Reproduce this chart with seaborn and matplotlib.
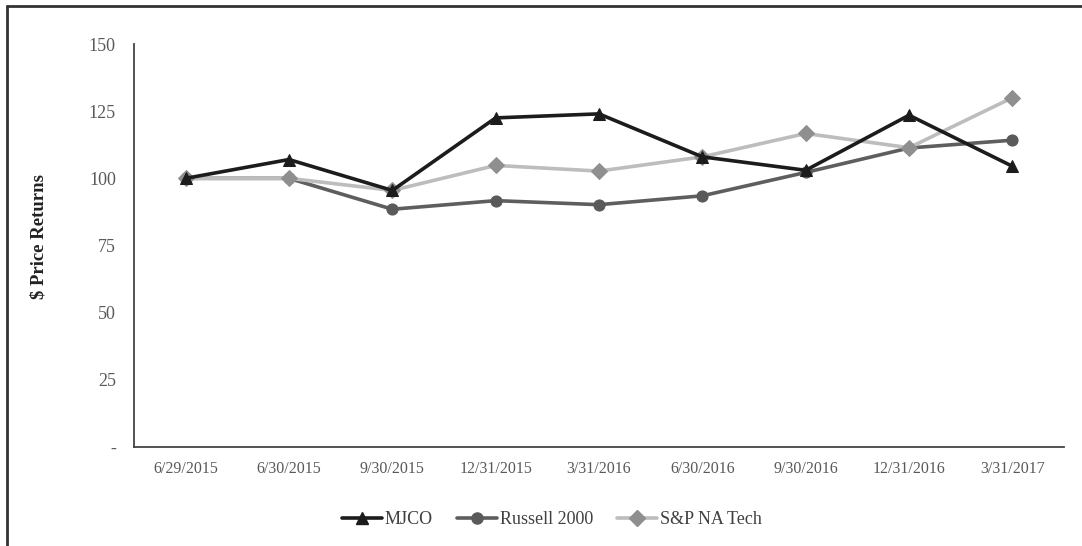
import matplotlib
matplotlib.use("Agg")
import matplotlib.pyplot as plt
from matplotlib.lines import Line2D
import seaborn as sns
import pandas as pd
import numpy as np

# Quarter-end dates on the category axis
dates = ["6/29/2015", "6/30/2015", "9/30/2015", "12/31/2015", "3/31/2016",
         "6/30/2016", "9/30/2016", "12/31/2016", "3/31/2017"]

# Indexed price returns (base = 100)
mjco = [100, 107, 95.5, 122.5, 124, 108, 103, 123.5, 104.5]
russell = [100, 100, 88.5, 91.7, 90.2, 93.5, 102.2, 111.3, 114.2]
sp_tech = [100, 100, 95.5, 104.8, 102.7, 108, 116.7, 111.4, 130]

series_names = ["MJCO", "Russell 2000", "S&P NA Tech"]
yticks = [0, 25, 50, 75, 100, 125, 150]
ytick_labels = ["-", "25", "50", "75", "100", "125", "150"]

line_colors = {"MJCO": "#1c1c1c", "Russell 2000": "#5e5e5e", "S&P NA Tech": "#bdbdbd"}
marker_colors = {"MJCO": "#1c1c1c", "Russell 2000": "#5a5a5a", "S&P NA Tech": "#8f8f8f"}
markers = {"MJCO": "^", "Russell 2000": "o", "S&P NA Tech": "D"}
marker_sizes = {"MJCO": 9, "Russell 2000": 8, "S&P NA Tech": 8}

df = pd.DataFrame({
    "pos": list(range(len(dates))) * 3,
    "value": mjco + russell + sp_tech,
    "series": [s for s in series_names for _ in dates],
})

sns.set_theme(style="white")
plt.rcParams["font.family"] = ["Liberation Serif", "DejaVu Serif"]

fig = plt.figure(figsize=(10.82, 5.46), dpi=100)
ax = fig.add_axes([0.1238, 0.1813, 0.8596, 0.7381])

for name in series_names:
    sub = df[df["series"] == name]
    sns.lineplot(data=sub, x="pos", y="value", ax=ax, color=line_colors[name],
                 linewidth=2.6, marker=markers[name], markersize=marker_sizes[name],
                 markerfacecolor=marker_colors[name], markeredgecolor=marker_colors[name],
                 legend=False, zorder=3 if name == "MJCO" else 2)

n = len(dates)
ax.set_xlim(-0.5, n - 0.5)
ax.set_ylim(0, 150)
ax.set_yticks(yticks)
ax.set_yticklabels(ytick_labels)
ax.set_xticks(np.arange(n + 1) - 0.5)
ax.set_xticklabels([])
ax.set_xticks(np.arange(n), minor=True)
ax.set_xticklabels(dates, minor=True)
ax.tick_params(axis="x", which="major", direction="out", length=5, width=1.2, color="#444444")
ax.tick_params(axis="x", which="minor", length=0, pad=10, labelsize=11.5, labelcolor="#595959")
ax.tick_params(axis="y", direction="out", length=5, width=1.2, color="#444444",
               labelsize=13, labelcolor="#595959", pad=8)
ax.set_xlabel("")
ax.set_ylabel("$ Price Returns", fontsize=13.5, fontweight="bold", color="#222222", labelpad=30)
ax.yaxis.label.set_y(0.522)

for side in ["top", "right"]:
    ax.spines[side].set_visible(False)
for side in ["left", "bottom"]:
    ax.spines[side].set_color("#444444")
    ax.spines[side].set_linewidth(1.3)

handles = [Line2D([0], [0], color=line_colors[s], linewidth=2.6, marker=markers[s],
                  markersize=marker_sizes[s], markerfacecolor=marker_colors[s],
                  markeredgecolor=marker_colors[s]) for s in series_names]
fig.legend(handles, series_names, loc="center", bbox_to_anchor=(0.51, 0.048), ncol=3,
           frameon=False, fontsize=13, handlelength=2.2, handletextpad=0.15,
           columnspacing=1.35, labelcolor="#404040")

# Outer frame (left and top edges)
fig.add_artist(Line2D([0.0065, 0.0065], [0, 0.989], transform=fig.transFigure,
                      color="#333333", linewidth=2))
fig.add_artist(Line2D([0.0065, 1.0], [0.989, 0.989], transform=fig.transFigure,
                      color="#333333", linewidth=2))

fig.savefig("out.png", dpi=100)
